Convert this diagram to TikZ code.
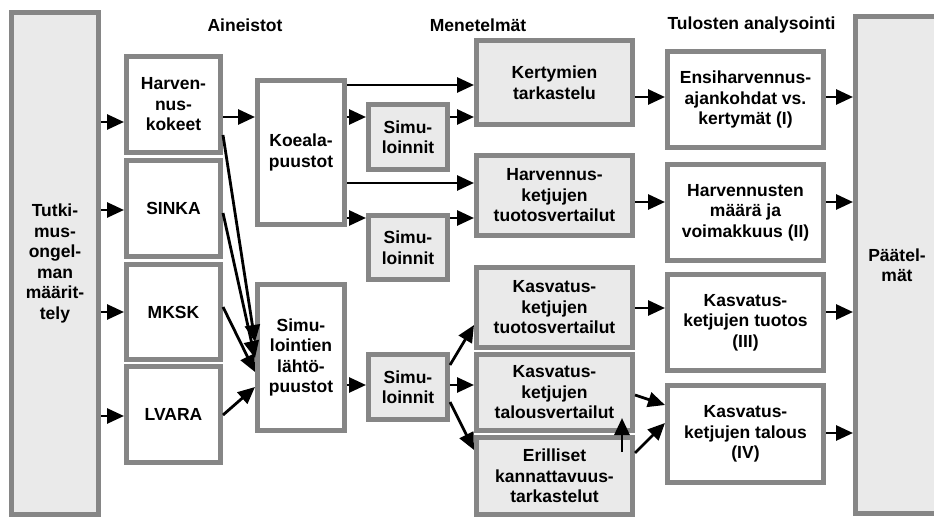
\documentclass[tikz,border=0pt]{standalone}
\usepackage{fontspec}
\setmainfont{Liberation Sans}
\usetikzlibrary{arrows.meta}
\definecolor{bord}{RGB}{134,134,134}
\definecolor{fillg}{RGB}{234,234,234}
\begin{document}
\begin{tikzpicture}[x=1pt,y=-1pt,
  wbox/.style={draw=bord, line width=5pt, fill=white, inner sep=0pt, align=center,
    font=\fontsize{17.5}{20.5}\selectfont\bfseries},
  gbox/.style={wbox, fill=fillg},
  hdr/.style={font=\fontsize{17.5}{20.5}\selectfont\bfseries, inner sep=0pt},
  arr/.style={line width=2.8pt, -{Triangle[length=17pt,width=15pt]}}]
\useasboundingbox (0,0) rectangle (934,518);
% headers
\node[hdr] (h1) at (245,25) {Aineistot};
\node[hdr] (h2) at (478,25) {Menetelmät};
\node[hdr] (h3) at (751.5,25) {Tulosten analysointi};
% big side boxes
\node[gbox, minimum width=87pt, minimum height=502pt] (L) at (55,263.5) {Tutki-\\mus-\\ongel-\\man\\määrit-\\tely};
\node[gbox, minimum width=83pt, minimum height=497pt] (R) at (897,265) {Päätel-\\mät};
% data
\node[wbox, minimum width=94pt, minimum height=96pt] (hk) at (173.5,104.5) {Harven-\\nus-\\kokeet};
\node[wbox, minimum width=94pt, minimum height=96pt] (sinka) at (173.5,208.5) {SINKA};
\node[wbox, minimum width=94pt, minimum height=95pt] (mksk) at (173.5,312) {MKSK};
\node[wbox, minimum width=94pt, minimum height=96pt] (lvara) at (173.5,414.5) {LVARA};
\node[wbox, minimum width=87pt, minimum height=144pt] (koe) at (301,152.5) {Koeala-\\puustot};
\node[wbox, minimum width=87pt, minimum height=146pt] (slp) at (301,357.5) {Simu-\\lointien\\lähtö-\\puustot};
% simulations
\node[gbox, minimum width=79pt, minimum height=65pt] (sim1) at (408,137) {Simu-\\loinnit};
\node[gbox, minimum width=79pt, minimum height=64pt] (sim2) at (408,247.5) {Simu-\\loinnit};
\node[gbox, minimum width=79pt, minimum height=65pt] (sim3) at (408,387) {Simu-\\loinnit};
% methods
\node[gbox, minimum width=156pt, minimum height=84pt] (ker) at (554.5,82.5) {Kertymien\\tarkastelu};
\node[gbox, minimum width=156pt, minimum height=80pt] (hkt) at (554.5,195.5) {Harvennus-\\ketjujen\\tuotosvertailut};
\node[gbox, minimum width=156pt, minimum height=80pt] (kt) at (554.5,307.5) {Kasvatus-\\ketjujen\\tuotosvertailut};
\node[gbox, minimum width=156pt, minimum height=76pt] (ktal) at (554.5,392.5) {Kasvatus-\\ketjujen\\talousvertailut};
\node[gbox, minimum width=156pt, minimum height=77pt] (eri) at (554.5,476) {Erilliset\\kannattavuus-\\tarkastelut};
% results
\node[wbox, minimum width=156pt, minimum height=96pt] (ens) at (745.5,99.5) {Ensiharvennus-\\ajankohdat vs.\\kertymät (I)};
\node[wbox, minimum width=156pt, minimum height=96pt] (hm) at (745.5,212.5) {Harvennusten\\määrä ja\\voimakkuus (II)};
\node[wbox, minimum width=156pt, minimum height=96pt] (k3) at (745.5,322.5) {Kasvatus-\\ketjujen tuotos\\(III)};
\node[wbox, minimum width=156pt, minimum height=97pt] (k4) at (745.5,434) {Kasvatus-\\ketjujen talous\\(IV)};
\coordinate (up1) at (622,452);
\coordinate (up2) at (622,418);
% arrows
\draw[arr] (L.east |- 0,122) -- (hk.west |- 0,122);
\draw[arr] (L.east |- 0,210) -- (sinka.west |- 0,210);
\draw[arr] (L.east |- 0,312) -- (mksk.west |- 0,312);
\draw[arr] (L.east |- 0,416) -- (lvara.west |- 0,416);
\draw[arr] (hk.east |- 0,117) -- (koe.west |- 0,117);
\draw[arr] (hk.east |- 0,135) -- (slp.west |- 0,342);
\draw[arr] (sinka.east |- 0,213) -- (slp.west |- 0,358);
\draw[arr] (mksk.east |- 0,307) -- (slp.west |- 0,372);
\draw[arr] (lvara.east |- 0,415) -- (slp.west |- 0,387);
\draw[arr] (koe.east |- 0,85) -- (ker.west |- 0,85);
\draw[arr] (koe.east |- 0,117) -- (sim1.west |- 0,117);
\draw[arr] (sim1.east |- 0,117) -- (ker.west |- 0,117);
\draw[arr] (koe.east |- 0,183) -- (hkt.west |- 0,183);
\draw[arr] (koe.east |- 0,218) -- (sim2.west |- 0,218);
\draw[arr] (sim2.east |- 0,218) -- (hkt.west |- 0,218);
\draw[arr] (slp.east |- 0,385) -- (sim3.west |- 0,385);
\draw[arr] (sim3.east |- 0,365) -- (kt.west |- 0,325);
\draw[arr] (sim3.east |- 0,385) -- (ktal.west |- 0,385);
\draw[arr] (sim3.east |- 0,402) -- (eri.west |- 0,450);
\draw[arr] (ker.east |- 0,97) -- (ens.west |- 0,97);
\draw[arr] (hkt.east |- 0,202) -- (hm.west |- 0,202);
\draw[arr] (kt.east |- 0,308) -- (k3.west |- 0,308);
\draw[arr] (ktal.east |- 0,395) -- (k4.west |- 0,405);
\draw[arr] (eri.east |- 0,453) -- (k4.west |- 0,423);
\draw[arr] (up1) -- (up2);
\draw[arr] (ens.east |- 0,97) -- (R.west |- 0,97);
\draw[arr] (hm.east |- 0,202) -- (R.west |- 0,202);
\draw[arr] (k3.east |- 0,312) -- (R.west |- 0,312);
\draw[arr] (k4.east |- 0,433) -- (R.west |- 0,433);
\end{tikzpicture}
\end{document}
